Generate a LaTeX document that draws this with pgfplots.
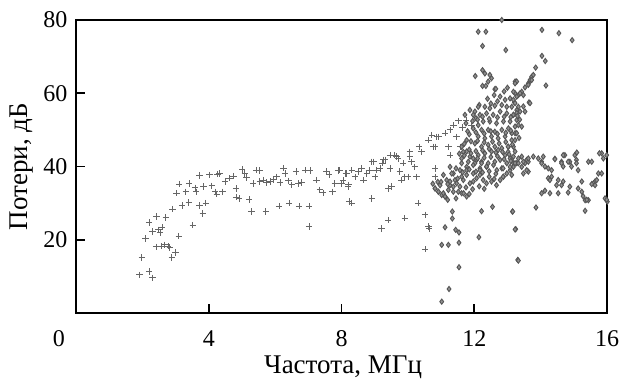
\documentclass[border=0pt]{standalone}
\usepackage{fontspec}
\setmainfont{Liberation Serif}
\usepackage{pgfplots}
\pgfplotsset{compat=1.18}
\definecolor{plusc}{HTML}{666666}
\definecolor{diac}{HTML}{555555}
\definecolor{diaf}{HTML}{909090}
\begin{document}
\begin{tikzpicture}
\path[use as bounding box] (-76pt,-72pt) rectangle (545pt,313pt);
\begin{axis}[
  at={(0pt,0pt)}, anchor=south west,
  scale only axis, width=531pt, height=293pt,
  xmin=0, xmax=16, ymin=0, ymax=80,
  xtick={4,8,12,16}, ytick={20,40,60,80},
  extra x ticks={0},
  extra x tick style={major tick length=0pt, xticklabel style={xshift=-17pt}},
  tick pos=left, tick align=inside,
  major tick length=9pt,
  axis line style={line width=1.8pt},
  tick style={line width=1.8pt, black},
  /pgf/number format/assume math mode=true,
  ticklabel style={font=\fontsize{24}{28}\selectfont},
  xticklabel style={anchor=center, yshift=-26pt},
  yticklabel style={anchor=east, xshift=-5pt},
  label style={font=\fontsize{27}{31}\selectfont},
  xlabel={Частота, МГц},
  ylabel={Потери, дБ},
  xlabel style={at={(axis description cs:0.503,-0.186)}, anchor=center},
  ylabel style={at={(axis description cs:-0.1017,0.5)}, anchor=center},
  clip=false,
]
\addplot[only marks, mark=+, mark size=3.2pt, color=plusc, mark options={line width=0.9pt}] coordinates {
(1.91,10.4)(2.2,11.3)(2.3,9.6)(1.98,15.2)(2.1,20.3)(2.2,24.7)(2.31,22.2)(2.48,22.7)
(2.6,23.4)(2.53,21.9)(2.42,26.3)(2.71,26.1)(2.41,18.1)(2.56,18.3)(2.68,18.6)(2.78,18.3)
(2.83,17.9)(2.89,15.2)(3.0,16.5)(3.1,21.0)(2.91,28.4)(3.2,29.3)(3.4,30.2)(3.52,24.0)
(3.72,29.3)(3.91,30.0)(3.82,27.2)(3.03,32.7)(3.31,33.1)(3.62,33.1)(3.11,35.2)(3.41,35.4)
(3.59,34.2)(3.84,34.5)(4.09,34.7)(4.19,33.1)(3.72,37.5)(4.02,37.7)(4.26,37.9)(4.32,38.1)
(4.24,32.5)(4.42,33.1)(4.49,35.9)(4.62,36.8)(4.74,37.4)(4.82,34.0)(4.82,31.6)(4.92,31.3)
(5.01,39.2)(5.09,38.1)(5.14,37.0)(5.22,31.0)(5.29,27.7)(5.34,35.4)(5.44,39.0)(5.54,38.9)
(5.54,35.9)(5.64,36.3)(5.75,35.6)(5.85,35.9)(5.95,36.5)(6.05,37.2)(6.15,35.6)(6.25,39.6)
(6.30,38.1)(6.40,36.1)(5.72,27.7)(6.12,29.2)(6.42,30.0)(6.72,29.2)(7.02,29.2)(7.02,23.6)
(6.50,35.0)(6.63,38.6)(6.70,35.4)(6.80,35.6)(6.90,39.0)(7.05,38.9)(7.25,36.3)(7.35,33.6)
(7.45,32.8)(7.55,38.6)(7.63,37.7)(7.73,33.1)(7.80,35.4)(7.90,38.9)(8.0,35.4)(8.13,38.1)
(8.2,34.5)(8.23,30.4)(7.95,39.0)(8.05,36.3)(8.16,38.1)(8.21,35.0)(8.31,39.0)(8.41,37.2)
(8.51,38.6)(8.61,39.5)(8.66,36.3)(8.76,38.1)(8.84,39.0)(8.91,41.3)(9.01,37.2)(9.06,39.0)
(9.16,39.5)(9.24,40.9)(9.31,41.8)(9.46,39.5)(9.51,34.5)(9.41,34.0)(9.61,43.1)(9.71,42.2)
(9.76,38.6)(9.81,36.3)(9.91,37.2)(10.01,37.2)(10.06,44.0)(10.11,41.3)(10.21,39.9)(10.26,37.2)
(10.34,45.4)(10.41,44.0)(10.62,47.2)(10.72,48.6)(10.77,45.4)(10.87,48.1)(10.82,39.5)(10.82,37.2)
(8.31,30.0)(8.91,31.3)(10.31,30.0)(9.41,25.4)(9.91,25.9)(10.52,26.8)(9.21,23.1)(10.62,23.6)
(10.52,17.4)(11.92,51.1)(11.37,51.3)(11.52,52.5)(11.75,52.7)(11.65,50.6)(11.47,48.1)(11.27,50.0)
(11.12,49.1)(10.92,48.1)(11.22,45.4)(10.82,45.4)(11.27,43.1)(11.57,45.4)(10.06,42.7)(9.86,40.9)
(9.66,42.7)(9.46,43.1)(8.96,41.3)(9.26,41.8)(10.64,23.1)
};
\addplot[only marks, mark=diamond*, mark size=2.6pt, color=diac, mark options={fill=diaf, line width=0.9pt}] coordinates {
(12.83,80.0)(12.12,76.8)(12.35,76.8)(12.25,72.9)(12.95,71.8)(14.04,77.3)(14.55,76.4)(14.95,74.5)
(14.04,70.2)(14.14,68.8)(13.85,67.0)(14.16,62.1)(13.73,64.5)(13.68,63.6)(13.63,62.7)(13.53,61.6)
(13.23,63.2)(13.23,60.0)(13.43,60.4)(13.48,59.5)(12.03,64.7)(12.25,66.3)(12.32,65.4)(12.52,64.1)
(12.42,63.2)(12.25,62.0)(12.35,62.0)(12.62,61.1)(13.65,57.5)(12.47,65.0)(12.65,61.2)(13.18,60.4)
(13.33,59.5)(13.28,63.2)
(12.78,59.1)(12.93,58.2)(13.08,58.6)(13.21,57.5)(13.33,56.3)(12.98,56.3)(12.83,56.8)(12.62,56.6)
(12.47,55.9)(12.32,56.3)(12.15,56.8)(12.02,55.0)(12.17,54.1)(12.37,54.5)(12.57,54.1)(12.78,55.0)
(12.98,54.5)(13.18,54.1)(13.28,52.7)(13.08,52.3)(12.88,52.3)(12.67,51.8)(12.47,52.3)(12.27,52.3)
(12.12,51.3)(11.97,50.4)(12.22,50.0)(12.42,50.0)(12.62,49.5)(12.83,50.0)(13.03,50.4)(13.23,49.1)
(13.13,47.2)(12.93,48.2)(12.72,47.7)(12.52,48.2)(12.32,47.7)(12.12,48.2)(12.02,46.3)(12.22,45.4)
(12.42,45.9)(12.62,45.4)(12.83,45.0)(13.03,45.4)(13.23,44.1)(13.13,42.2)(12.93,43.1)(12.72,44.5)
(12.52,44.1)(12.32,43.6)(12.12,43.1)(11.97,42.2)(11.77,44.1)(11.62,42.2)(11.82,41.3)(12.02,40.9)
(12.22,41.3)(12.42,40.9)(12.62,41.3)(12.78,41.8)(12.98,40.9)(13.18,40.9)(13.38,55.0)(12.12,56.3)
(10.82,34.0)(10.92,33.1)(11.02,32.2)(11.12,31.8)(10.97,34.9)(11.17,36.3)(11.07,37.7)(11.27,34.9)
(11.37,33.1)(11.47,35.4)(11.62,32.7)(11.57,34.5)(11.67,36.3)(11.77,37.7)(11.87,35.4)(11.97,35.9)
(12.07,36.8)(12.17,37.7)(12.27,36.3)(12.37,35.4)(12.52,35.9)(12.67,34.9)(12.78,36.3)(12.88,37.2)
(12.98,38.1)(13.08,39.0)(13.18,39.9)(13.28,40.9)(11.77,39.9)(11.97,40.4)(12.17,39.5)(12.37,39.9)
(12.58,40.4)(11.57,39.0)(11.37,38.1)(11.27,39.9)(12.83,39.5)
(11.34,27.7)(11.34,25.8)(12.22,27.8)(12.55,29.0)(13.15,27.7)(13.25,22.9)(13.31,14.5)(11.12,23.4)
(11.44,22.7)(11.54,22.0)(12.14,20.7)(11.02,18.6)(11.22,18.6)(11.54,19.2)(11.54,12.5)(11.24,6.55)
(11.02,3.1)
(13.78,65.0)(13.73,63.6)(13.63,62.3)(13.23,62.7)(13.38,60.0)(13.28,59.1)(13.18,58.2)(13.68,57.3)
(13.23,57.3)(13.13,56.3)(13.28,55.4)(13.18,54.1)(13.53,55.0)(13.33,51.3)(13.43,50.9)(13.28,49.1)
(13.18,45.4)
(13.08,42.2)(13.33,42.2)(13.58,41.8)(13.78,42.7)(13.93,42.2)(14.03,41.3)(14.43,42.1)(14.63,41.3)
(14.73,43.1)(14.88,41.3)(15.03,43.1)(15.08,41.8)(15.44,41.3)(15.54,41.3)(15.84,43.6)(15.89,42.2)
(13.23,40.9)(13.43,39.9)(13.53,40.9)(13.63,41.3)(13.48,38.1)(13.63,38.6)(14.03,40.9)(14.13,40.0)
(14.23,39.5)(14.33,39.0)(14.63,40.9)(14.68,40.0)(14.83,41.3)(14.93,40.0)(15.08,40.9)(15.13,39.0)
(14.23,36.8)(14.33,37.2)(14.28,36.3)(14.53,36.3)(14.63,34.9)(15.24,35.9)(15.74,38.1)(15.64,35.9)
(15.59,35.4)(15.69,36.3)(15.54,35.2)(14.03,32.7)(14.13,33.4)(14.53,32.7)(14.83,32.9)(15.24,33.1)
(15.34,30.8)(15.44,30.8)(15.34,27.9)(15.94,31.3)(16.01,30.4)(13.86,28.8)(13.16,27.7)(13.23,22.8)
(13.33,14.3)
(14.08,42.7)(14.43,42.0)(14.68,43.1)(15.09,43.8)(15.77,43.6)(15.99,43.1)(15.99,30.9)
(14.48,34.9)(14.68,35.9)(14.88,34.5)(14.28,32.7)(15.13,34.0)(15.64,34.9)(15.84,38.1)(15.28,31.9)
(15.39,30.9)
(12.68,39.0)(12.87,39.5)(13.08,39.9)(13.33,40.9)(13.48,41.3)(12.87,37.2)(13.13,37.7)(13.58,39.0)
(13.63,42.2)(13.18,42.7)(13.43,42.7)(13.02,45.4)(13.23,47.2)(13.13,49.1)(13.23,50.9)(13.37,52.8)
(13.28,54.6)(13.48,56.4)(13.02,44.0)
(10.82,34.0)(10.92,33.1)(11.07,32.7)(11.22,33.6)(11.37,34.5)(11.52,33.1)(11.12,31.8)(11.27,35.9)
(11.42,36.3)(11.62,37.2)(11.68,32.7)(11.77,31.8)(11.32,38.1)
(11.87,55.4)(11.72,54.1)(11.97,54.1)(11.77,47.2)(11.62,45.4)(11.67,44.0)(11.87,42.7)(12.07,41.8)
(12.22,40.9)(12.37,40.0)(12.17,39.0)(11.97,38.1)(11.77,39.0)(11.62,40.9)
(12.4,58.5)(12.6,59.5)(12.9,60.5)(13.0,61.5)(12.7,57.8)(12.5,57.2)
(12.05,53.2)(12.25,53.6)(12.45,53.0)(12.7,53.4)(12.9,53.6)(13.1,53.5)(13.3,53.8)
(11.85,48.8)(12.05,49.3)(12.3,49.0)(12.5,49.6)(12.7,48.9)(12.95,49.2)(13.1,49.8)
(11.9,46.9)(12.1,47.0)(12.3,46.6)(12.55,46.8)(12.75,46.3)(12.95,46.7)(13.15,46.0)(13.35,47.8)
(11.85,44.6)(12.05,44.2)(12.25,44.4)(12.45,44.8)(12.65,43.8)(12.85,44.0)(13.05,43.3)
(11.7,43.0)(11.9,43.6)(12.1,42.2)(12.3,42.4)(12.5,42.6)(12.7,42.8)(12.9,42.0)(13.1,41.5)
(11.45,39.5)(11.65,38.4)(11.85,39.2)(12.05,38.6)(12.25,38.4)(12.45,38.7)(12.65,38.0)(12.45,37.2)(12.6,36.6)
(11.0,35.8)(11.2,35.2)(11.5,36.7)(11.75,34.3)(11.95,33.8)(12.15,34.6)(12.3,33.9)(11.45,31.3)
(11.2,30.9)(11.85,32.5)(10.9,35.8)(10.75,35.3)
(11.8,49.6)(11.95,52.4)(12.1,52.8)(11.75,51.8)(11.7,46.2)(11.55,43.5)
};
\end{axis}
\end{tikzpicture}
\end{document}
